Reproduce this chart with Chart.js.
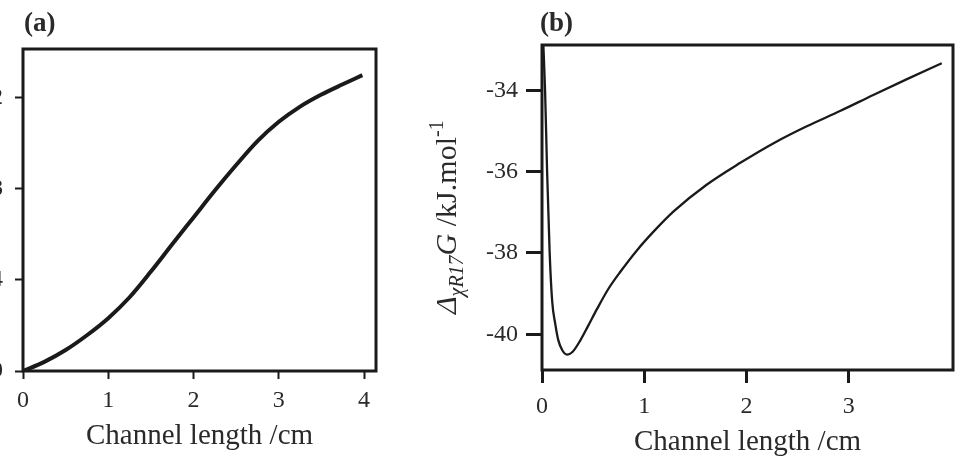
<!DOCTYPE html>
<html>
<head>
<meta charset="utf-8">
<script src="https://cdn.jsdelivr.net/npm/chart.js@4.4.1/dist/chart.umd.min.js"></script>
<style>
  html, body { margin: 0; padding: 0; background: #fff; overflow: hidden; }
  body { width: 956px; height: 458px; position: relative; }
  canvas { position: absolute; top: 0; }
  #chartA { left: -50px; }
  #chartB { left: 420px; }
</style>
</head>
<body>
<canvas id="chartA" width="440" height="458"></canvas>
<canvas id="chartB" width="536" height="458"></canvas>
<script>
// panel (a)
const lenA = [0, 0.25, 0.5, 0.75, 1.0, 1.25, 1.5, 1.75, 2.0, 2.25, 2.5, 2.75, 3.0, 3.25, 3.5, 3.75, 3.98]
const valA = [0, 0.40, 0.92, 1.57, 2.32, 3.24, 4.37, 5.57, 6.75, 7.93, 9.05, 10.1, 10.95, 11.62, 12.15, 12.6, 13.0]
const xTicksA = [0, 1, 2, 3, 4]
const yTicksA = [0, 4, 8, 12]

// panel (b)
const lenB = [0.012, 0.03, 0.05, 0.075, 0.1, 0.13, 0.16, 0.2, 0.245, 0.3, 0.375, 0.45, 0.54, 0.65, 0.77, 0.93, 1.1, 1.29, 1.61, 1.94, 2.27, 2.59, 2.92, 3.24, 3.57, 3.91]
const valB = [-32.8, -34.0, -36.0, -38.0, -39.2, -39.75, -40.15, -40.4, -40.5, -40.43, -40.15, -39.8, -39.37, -38.88, -38.45, -37.93, -37.45, -36.97, -36.32, -35.78, -35.29, -34.88, -34.50, -34.11, -33.72, -33.33]
const xTicksB = [0, 1, 2, 3]
const yTicksB = [-40, -38, -36, -34]

const serif = "'Liberation Serif', 'DejaVu Serif', serif"
const ink = '#1a1a1a'
const txt = '#2a2a2a'

const toPts = (xs, ys) => xs.map((x, i) => ({ x: x, y: ys[i] }))
const fixTicks = arr => scale => { scale.ticks = arr.map(v => ({ value: v })) }

// box round the plot + panel letter
const frame = {
  id: 'frame',
  afterDraw(chart, args, opts) {
    const { ctx, chartArea: a } = chart
    ctx.save()
    ctx.lineWidth = opts.width
    ctx.strokeStyle = ink
    ctx.strokeRect(a.left, a.top, a.right - a.left, a.bottom - a.top)
    ctx.fillStyle = txt
    ctx.font = 'bold 27px ' + serif
    ctx.textBaseline = 'alphabetic'
    ctx.fillText(opts.label, opts.lx, opts.ly)
    ctx.restore()
  }
}

// y title of (b): italic delta, subscript, superscript
const yTitleB = {
  id: 'yTitleB',
  afterDraw(chart) {
    const ctx = chart.ctx
    ctx.save()
    ctx.translate(36, 314)
    ctx.rotate(-Math.PI / 2)
    ctx.fillStyle = txt
    ctx.textBaseline = 'alphabetic'
    let x = 0
    const put = (s, font, dy) => {
      ctx.font = font
      ctx.fillText(s, x, dy)
      x += ctx.measureText(s).width
    }
    put('\u0394', 'italic 30px ' + serif, 0)
    put('\u03c7R17', 'italic 20px ' + serif, 7)
    put('G', 'italic 30px ' + serif, 0)
    put(' /kJ.mol', '30px ' + serif, 0)
    put('-1', '20px ' + serif, -13)
    ctx.restore()
  }
}

const tickFont = size => ({ family: serif, size: size })

new Chart(document.getElementById('chartA'), {
  type: 'line',
  data: {
    datasets: [{
      data: toPts(lenA, valA),
      borderColor: ink,
      borderWidth: 4,
      pointRadius: 0,
      cubicInterpolationMode: 'monotone',
      fill: false
    }]
  },
  options: {
    responsive: false,
    animation: false,
    events: [],
    layout: { padding: { top: 49, right: 14, left: 0, bottom: 0 } },
    plugins: {
      legend: { display: false },
      tooltip: { enabled: false },
      frame: { width: 3, label: '(a)', lx: 74, ly: 31 }
    },
    scales: {
      x: {
        type: 'linear',
        min: 0,
        max: 4.14,
        afterBuildTicks: fixTicks(xTicksA),
        afterFit: s => { s.height = 87 },
        ticks: { color: txt, font: tickFont(24), padding: 7, maxRotation: 0 },
        grid: { drawOnChartArea: false, tickLength: 8, tickWidth: 2, tickColor: ink },
        border: { display: false },
        title: { display: true, text: 'Channel length /cm', color: txt, font: { family: serif, size: 29 }, padding: { top: 0, bottom: 4 } }
      },
      y: {
        type: 'linear',
        min: 0,
        max: 14.15,
        afterBuildTicks: fixTicks(yTicksA),
        afterFit: s => { s.width = 73 },
        ticks: { color: txt, font: tickFont(24), padding: 12 },
        grid: { drawOnChartArea: false, tickLength: 8, tickWidth: 2, tickColor: ink },
        border: { display: false }
      }
    }
  },
  plugins: [frame]
})

new Chart(document.getElementById('chartB'), {
  type: 'line',
  data: {
    datasets: [{
      data: toPts(lenB, valB),
      borderColor: ink,
      borderWidth: 2.3,
      pointRadius: 0,
      cubicInterpolationMode: 'monotone',
      fill: false
    }]
  },
  options: {
    responsive: false,
    animation: false,
    events: [],
    layout: { padding: { top: 45, right: 3, left: 0, bottom: 0 } },
    plugins: {
      legend: { display: false },
      tooltip: { enabled: false },
      frame: { width: 3, label: '(b)', lx: 120, ly: 31 }
    },
    scales: {
      x: {
        type: 'linear',
        min: 0,
        max: 4.02,
        afterBuildTicks: fixTicks(xTicksB),
        afterFit: s => { s.height = 88 },
        ticks: { color: txt, font: tickFont(24), padding: 9, maxRotation: 0 },
        grid: { drawOnChartArea: false, tickLength: 13, tickWidth: 3, tickColor: ink },
        border: { display: false },
        title: { display: true, text: 'Channel length /cm', color: txt, font: { family: serif, size: 29, lineHeight: 1 }, padding: { top: 0, bottom: 1 } }
      },
      y: {
        type: 'linear',
        min: -40.88,
        max: -32.88,
        afterBuildTicks: fixTicks(yTicksB),
        afterFit: s => { s.width = 122 },
        ticks: { color: txt, font: tickFont(24), padding: 8 },
        grid: { drawOnChartArea: false, tickLength: 16, tickWidth: 3, tickColor: ink },
        border: { display: false }
      }
    }
  },
  plugins: [frame, yTitleB]
})
</script>
</body>
</html>
